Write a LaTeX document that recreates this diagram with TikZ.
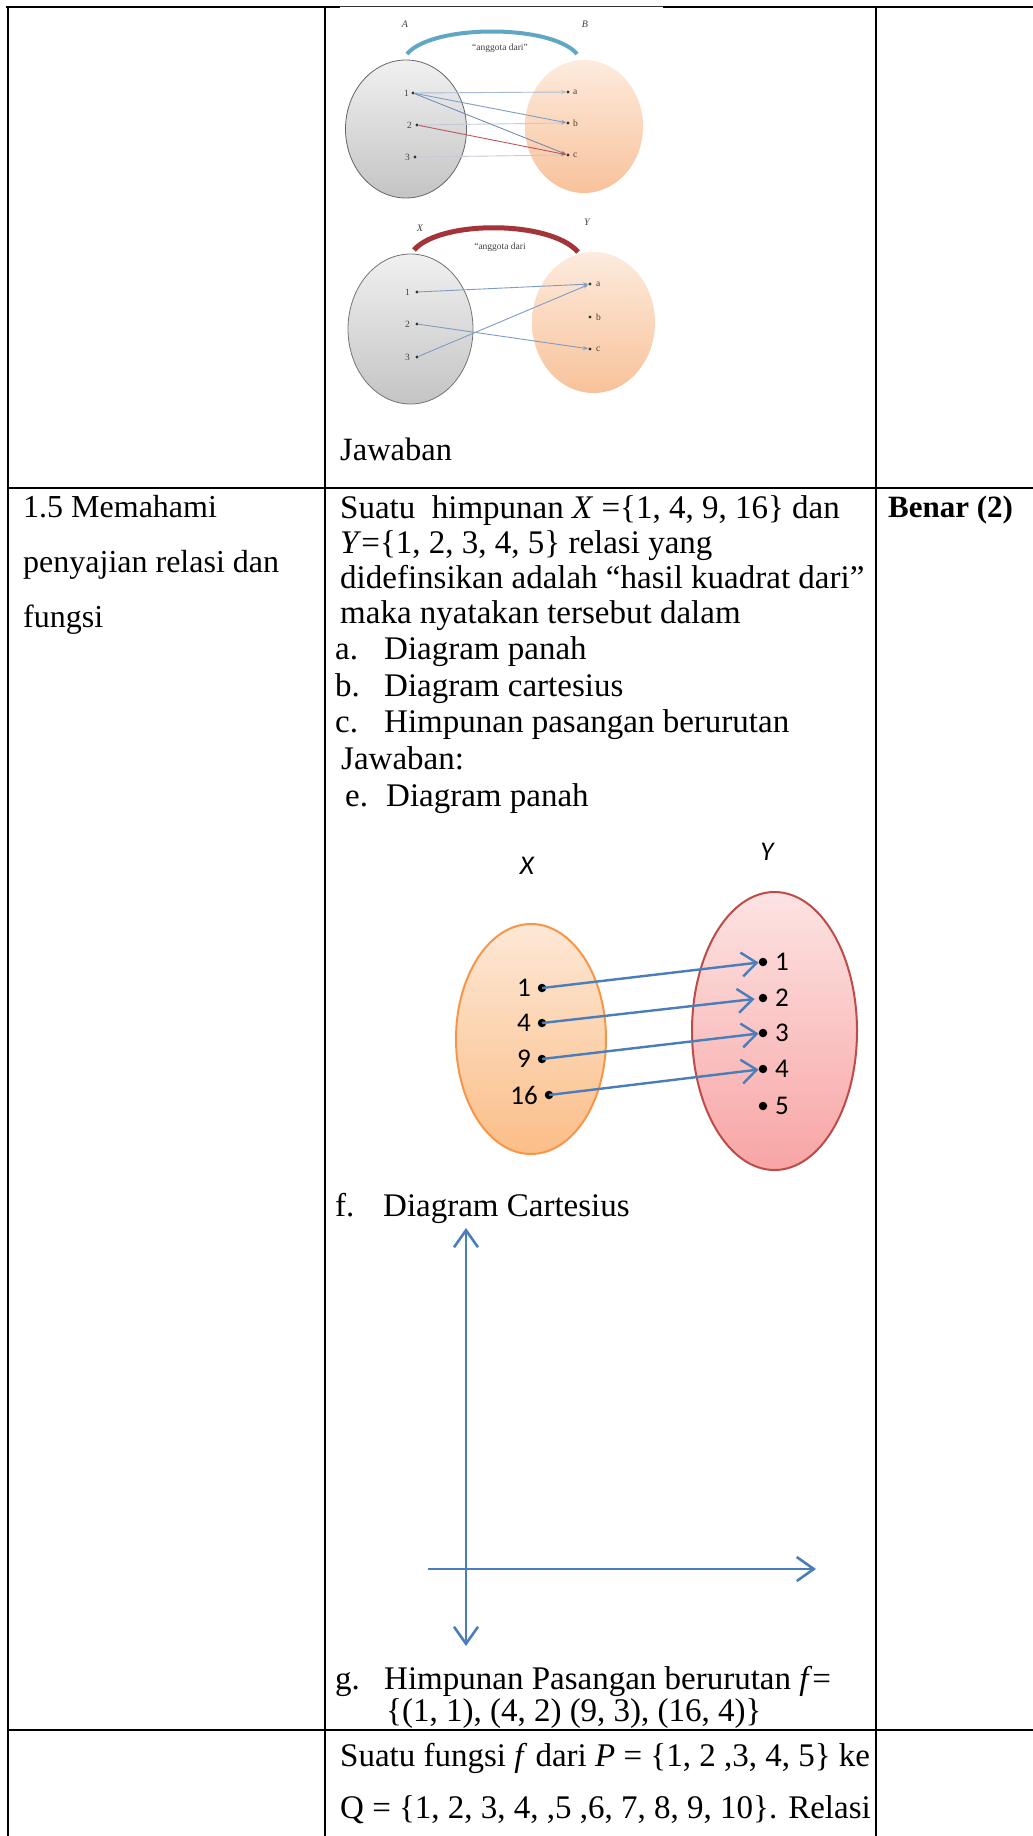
\documentclass[tikz,border=0pt]{standalone}
\usepackage{fontspec}
\setmainfont{Liberation Serif}
\newfontfamily\calfont{Carlito}
\usetikzlibrary{arrows.meta,shapes.geometric}
\definecolor{axblue}{HTML}{4A7EBB}
\definecolor{oranB}{HTML}{F79646}
\definecolor{oranT}{HTML}{FDE8D6}
\definecolor{oranBot}{HTML}{FBBE88}
\definecolor{redB}{HTML}{BE4B48}
\definecolor{pinkT}{HTML}{FDE3E3}
\definecolor{pinkBot}{HTML}{F8A5A5}
\definecolor{greyT}{HTML}{F0F0F0}
\definecolor{greyBot}{HTML}{C4C4C4}
\definecolor{peachT}{HTML}{FDEBDD}
\definecolor{peachBot}{HTML}{F8C29A}
\definecolor{arcteal}{HTML}{62A6C6}
\definecolor{arcred}{HTML}{A3343A}
\definecolor{lnblue}{HTML}{7F9CC4}
\definecolor{lnred}{HTML}{B8585C}
\definecolor{lnfaint}{HTML}{C6CAD6}
\tikzset{
  tline/.style={line width=2.6, black},
  body/.style={anchor=base west, inner sep=0, font=\fontsize{33}{34.5}\selectfont},
  bigdot/.style={circle, fill=black, inner sep=0, minimum size=8.5},
  sdot/.style={circle, fill=black!80, inner sep=0, minimum size=3.4},
  lab/.style={inner sep=0, font=\calfont\fontsize{27}{27}\selectfont},
  tiny/.style={inner sep=0, font=\fontsize{9.5}{9.5}\selectfont, text=black!75},
  parr/.style={axblue, line width=2.4, -{Straight Barb[length=15,width=24,line width=2.4]}},
  axarr/.style={axblue, line width=2.6},
  sarr/.style={line width=0.9, -{Stealth[length=5,width=4]}},
}
\begin{document}
\begin{tikzpicture}[x=1pt,y=-1pt]
\useasboundingbox (0,0) rectangle (1033,1836);
\fill[white] (0,0) rectangle (1033,1836);

% ---------- table rules ----------
\draw[tline] (6,7) -- (340,7);
\draw[tline] (663,7) -- (1033,7);
\draw[line width=1, black!80] (340,7) -- (663,7);
\draw[tline] (8,6) -- (8,1836);
\draw[tline] (325,6) -- (325,1836);
\draw[tline] (876,6) -- (876,1836);
\draw[tline] (8,488) -- (1033,488);
\draw[tline] (8,1730) -- (1033,1730);

% ---------- small diagram 1 ----------
\node[ellipse, draw=black!60, line width=0.8, top color=greyT, bottom color=greyBot,
      minimum width=121, minimum height=138, inner sep=0] (gA) at (406,129) {};
\node[ellipse, top color=peachT, bottom color=peachBot,
      minimum width=118, minimum height=133, inner sep=0] (gB) at (584,126.5) {};
\coordinate (arc1s) at (407,54);
\coordinate (arc1e) at (577,54);
\draw[arcteal, line width=4] (arc1s) .. controls (432,24) and (552,24) .. (arc1e);
\node[tiny, font=\itshape\fontsize{10}{10}\selectfont] (lA) at (405,24) {A};
\node[tiny, font=\itshape\fontsize{10}{10}\selectfont] (lB) at (585,24) {B};
\node[tiny] (rel1) at (500,48) {“anggota dari”};
\node[sdot] (a1) at (413,93) {};
\node[sdot] (a2) at (417,125) {};
\node[sdot] (a3) at (415,157) {};
\node[tiny, anchor=east] (la1) at (409,93) {1};
\node[tiny, anchor=east] (la2) at (412,125) {2};
\node[tiny, anchor=east] (la3) at (410,157) {3};
\node[sdot] (b1) at (568,92) {};
\node[sdot] (b2) at (568,123) {};
\node[sdot] (b3) at (568,155) {};
\node[tiny, anchor=west] (lb1) at (573,92) {a};
\node[tiny, anchor=west] (lb2) at (573,123) {b};
\node[tiny, anchor=west] (lb3) at (573,155) {c};
\draw[sarr, lnfaint] (a2) -- (b2);
\draw[sarr, lnfaint] (a3) -- (b3);
\draw[sarr, lnblue!70] (a1) -- (b1);
\draw[sarr, lnblue] (a1) -- (b2);
\draw[sarr, lnblue!90!black] (a1) -- (b3);
\draw[sarr, lnred] (a2) -- (b3);

% ---------- small diagram 2 ----------
\node[ellipse, draw=black!55, line width=0.8, top color=greyT, bottom color=greyBot,
      minimum width=125, minimum height=150, inner sep=0] (gX) at (410.5,329) {};
\node[ellipse, top color=peachT, bottom color=peachBot,
      minimum width=123, minimum height=141, inner sep=0] (gY) at (593.5,322.5) {};
\coordinate (arc2s) at (414,250);
\coordinate (arc2e) at (578,252);
\draw[arcred, line width=5] (arc2s) .. controls (440,220) and (550,220) .. (arc2e);
\node[tiny, font=\itshape\fontsize{10}{10}\selectfont] (lX2) at (420,228) {X};
\node[tiny, font=\itshape\fontsize{10}{10}\selectfont] (lY2) at (587,222) {Y};
\node[tiny] (rel2) at (500,247) {“anggota dari};
\node[sdot] (c1) at (417,292) {};
\node[sdot] (c2) at (417,324) {};
\node[sdot] (c3) at (417,357) {};
\node[tiny, anchor=east] (lc1) at (410,292) {1};
\node[tiny, anchor=east] (lc2) at (410,324) {2};
\node[tiny, anchor=east] (lc3) at (410,357) {3};
\node[sdot] (d1) at (590,284) {};
\node[sdot] (d2) at (590,317) {};
\node[sdot] (d3) at (590,349) {};
\node[tiny, anchor=west] (ld1) at (596,284) {a};
\node[tiny, anchor=west] (ld2) at (596,317) {b};
\node[tiny, anchor=west] (ld3) at (596,349) {c};
\draw[sarr, lnblue] (c1) -- (d1);
\draw[sarr, lnblue] (c3) -- (d1);
\draw[sarr, lnblue] (c2) -- (d3);

\node[body, font=\fontsize{32.5}{32.5}\selectfont] (jw) at (340,460) {Jawaban};

% ---------- row 2 texts ----------
\node[body, font=\fontsize{32}{32}\selectfont] (k1) at (23,517) {1.5 Memahami};
\node[body, font=\fontsize{32}{32}\selectfont] (k2) at (23,572) {penyajian relasi dan};
\node[body, font=\fontsize{32}{32}\selectfont] (k3) at (23,627) {fungsi};
\node[body, font=\bfseries\fontsize{31}{31}\selectfont] (bn) at (888,517) {Benar (2)};

\node[body] (m1) at (340,518) {Suatu\ \ himpunan \textit{X} =\{1, 4, 9, 16\} dan};
\node[body] (m2) at (340,553) {\textit{Y}=\{1, 2, 3, 4, 5\} relasi yang};
\node[body] (m3) at (340,588) {didefinsikan adalah “hasil kuadrat dari”};
\node[body] (m4) at (340,623) {maka nyatakan tersebut dalam};
\node[body] (m5a) at (335,659) {a.};
\node[body] (m5b) at (384,659) {Diagram panah};
\node[body] (m6a) at (335,696) {b.};
\node[body] (m6b) at (384,696) {Diagram cartesius};
\node[body] (m7a) at (335,732) {c.};
\node[body] (m7b) at (384,732) {Himpunan pasangan berurutan};
\node[body] (m8) at (341,769) {Jawaban:};
\node[body] (m9a) at (345,806) {e.};
\node[body] (m9b) at (386,806) {Diagram panah};

% ---------- arrow diagram ----------
\node[lab, font=\calfont\itshape\fontsize{27}{27}\selectfont] (lX) at (527,866) {X};
\node[lab, font=\calfont\itshape\fontsize{27}{27}\selectfont] (lY) at (767,852) {Y};
\node[ellipse, draw=oranB, line width=2, top color=oranT, bottom color=oranBot,
      minimum width=150, minimum height=230, inner sep=0] (setX) at (531,1039) {};
\node[ellipse, draw=redB, line width=2, top color=pinkT, bottom color=pinkBot,
      minimum width=165, minimum height=278, inner sep=0] (setY) at (774.5,1031) {};
\node[bigdot] (x1) at (542,988) {};
\node[bigdot] (x4) at (542,1023) {};
\node[bigdot] (x9) at (542,1059) {};
\node[bigdot] (x16) at (549,1095) {};
\node[lab, anchor=east] (lx1) at (531,988) {1};
\node[lab, anchor=east] (lx4) at (531,1023) {4};
\node[lab, anchor=east] (lx9) at (531,1059) {9};
\node[lab, anchor=east] (lx16) at (538,1095) {16};
\node[bigdot] (y1) at (763,962) {};
\node[bigdot] (y2) at (763,998) {};
\node[bigdot] (y3) at (763,1033) {};
\node[bigdot] (y4) at (763,1069) {};
\node[bigdot] (y5) at (763,1106) {};
\node[lab, anchor=west] (ly1) at (775,962) {1};
\node[lab, anchor=west] (ly2) at (775,998) {2};
\node[lab, anchor=west] (ly3) at (775,1033) {3};
\node[lab, anchor=west] (ly4) at (775,1069) {4};
\node[lab, anchor=west] (ly5) at (775,1106) {5};
\draw[parr] (x1.center) -- (y1);
\draw[parr, shorten >=4] (x4.center) -- (y2);
\draw[parr] (x9.center) -- (y3);
\draw[parr] (x16.center) -- (y4);

% ---------- cartesian ----------
\node[body] (m10a) at (335,1216) {f.};
\node[body] (m10b) at (383,1216) {Diagram Cartesius};
\coordinate (ytop) at (466,1228);
\coordinate (ybot) at (466,1646);
\coordinate (xl) at (428,1569);
\coordinate (xr) at (816,1569);
\draw[axarr, {Straight Barb[length=17,width=24,line width=2.6]}-{Straight Barb[length=17,width=24,line width=2.6]}] (ytop) -- (ybot);
\draw[axarr, -{Straight Barb[length=17,width=24,line width=2.6]}] (xl) -- (xr);

\node[body] (m11a) at (335,1689) {g.};
\node[body] (m11b) at (384,1689) {Himpunan Pasangan berurutan \textit{f}=};
\node[body] (m12) at (386,1721) {\{(1, 1), (4, 2) (9, 3), (16, 4)\}};

% ---------- row 3 ----------
\node[body] (r1) at (340,1766) {Suatu fungsi \textit{f} dari \textit{P} = \{1, 2 ,3, 4, 5\} ke};
\node[body] (r2) at (340,1818) {Q = \{1, 2, 3, 4, ,5 ,6, 7, 8, 9, 10\}. Relasi};
\end{tikzpicture}
\end{document}
